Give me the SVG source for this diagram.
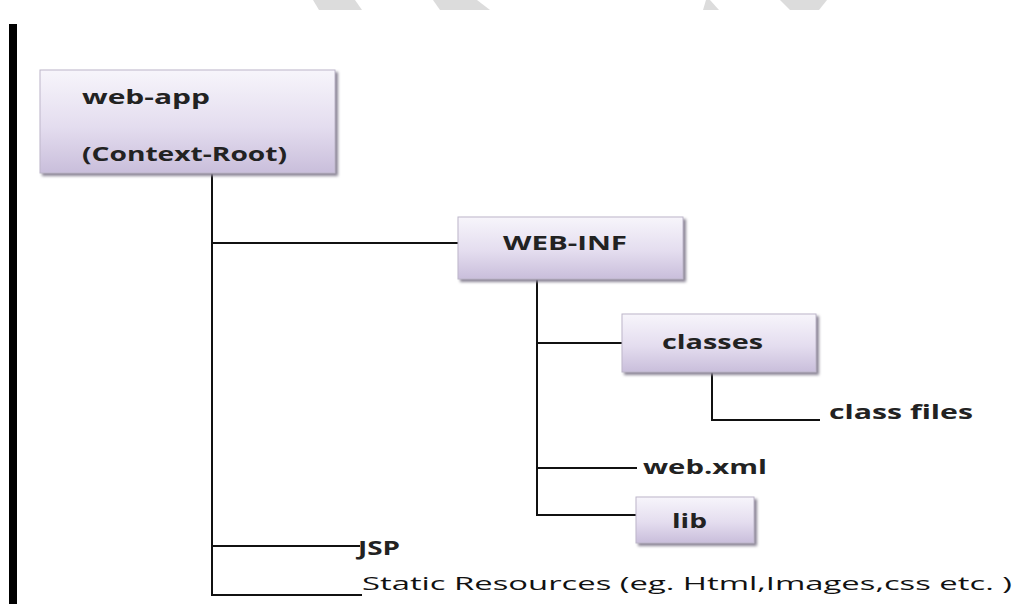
<svg xmlns="http://www.w3.org/2000/svg" width="1031" height="604" viewBox="0 0 1031 604">
  <defs>
    <linearGradient id="boxFill" x1="0" y1="0" x2="0" y2="1">
      <stop offset="0" stop-color="#f7f5fb"/>
      <stop offset="0.55" stop-color="#e4ddef"/>
      <stop offset="1" stop-color="#c9bedb"/>
    </linearGradient>
    <filter id="soft" x="-10%" y="-10%" width="130%" height="140%">
      <feGaussianBlur stdDeviation="1.5"/>
    </filter>
  </defs>
  <style>
    .shadow { fill: #8a8494; filter: url(#soft); }
    .box { fill: url(#boxFill); stroke: #bdb6c9; stroke-width: 1; }
    .lbl { font-family: "Open Sans", "Liberation Sans", sans-serif; font-weight: 700; font-size: 19px; fill: #222; }
    .plain { font-family: "Open Sans", "Liberation Sans", sans-serif; font-weight: 400; font-size: 19px; fill: #111; }
    .wire { stroke: #111; stroke-width: 2; fill: none; }
  </style>

  <rect width="1031" height="604" fill="#ffffff"/>

  <!-- faint watermark strokes along the top edge -->
  <g fill="#dcdcdc">
    <polygon points="313,0 355,0 362,10 319,10"/>
    <polygon points="433,0 477,0 490,10 440,10"/>
    <polygon points="706,0 710,0 719,10 703,10"/>
    <polygon points="780,0 827,0 819,10 790,10"/>
  </g>

  <!-- page margin bar -->
  <rect x="9" y="24" width="8" height="580" fill="#000"/>

  <!-- connectors -->
  <g id="connectors" class="wire">
    <polyline points="212,173 212,595 362,595"/>
    <line x1="212" y1="243" x2="458" y2="243"/>
    <line x1="212" y1="546" x2="360" y2="546"/>
    <polyline points="537,279 537,515 636,515"/>
    <line x1="537" y1="343" x2="622" y2="343"/>
    <line x1="537" y1="468" x2="637" y2="468"/>
    <polyline points="712,372 712,420 820,420"/>
  </g>

  <g id="web-app">
    <rect class="shadow" x="42" y="72" width="296" height="104"/>
    <rect class="box" x="40" y="70" width="295" height="103"/>
    <text class="lbl" x="82" y="104" textLength="128" lengthAdjust="spacingAndGlyphs">web-app</text>
    <text class="lbl" x="82" y="161" textLength="205" lengthAdjust="spacingAndGlyphs">(Context-Root)</text>
  </g>

  <g id="web-inf">
    <rect class="shadow" x="460" y="219" width="226" height="63"/>
    <rect class="box" x="458" y="217" width="225" height="62"/>
    <text class="lbl" x="503" y="250" textLength="124" lengthAdjust="spacingAndGlyphs">WEB-INF</text>
  </g>

  <g id="classes">
    <rect class="shadow" x="624" y="316" width="195" height="59"/>
    <rect class="box" x="622" y="314" width="194" height="58"/>
    <text class="lbl" x="662" y="349" textLength="101" lengthAdjust="spacingAndGlyphs">classes</text>
  </g>

  <g id="class-files">
    <text class="lbl" x="829" y="419" textLength="144" lengthAdjust="spacingAndGlyphs">class files</text>
  </g>

  <g id="web-xml">
    <text class="lbl" x="643" y="474" textLength="124" lengthAdjust="spacingAndGlyphs">web.xml</text>
  </g>

  <g id="lib">
    <rect class="shadow" x="638" y="499" width="119" height="47"/>
    <rect class="box" x="636" y="497" width="118" height="46"/>
    <text class="lbl" x="672" y="528" textLength="35" lengthAdjust="spacingAndGlyphs">lib</text>
  </g>

  <g id="jsp">
    <text class="lbl" x="358" y="555" textLength="42" lengthAdjust="spacingAndGlyphs">JSP</text>
  </g>

  <g id="static-resources">
    <text class="plain" x="362" y="590" textLength="650" lengthAdjust="spacingAndGlyphs">Static Resources  (eg. Html,Images,css  etc. )</text>
  </g>
</svg>
